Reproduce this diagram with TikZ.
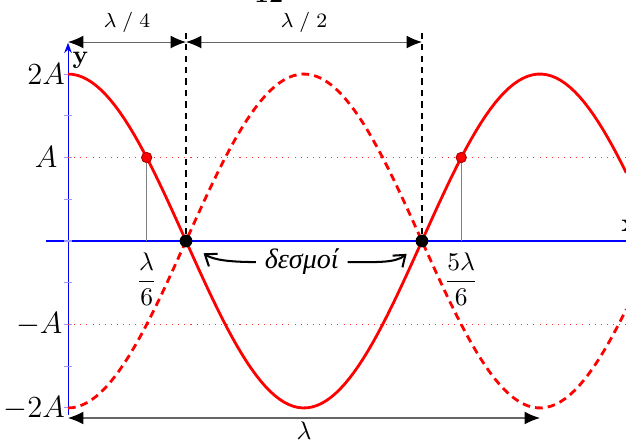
\documentclass[tikz,border=0pt]{standalone}
\usepackage{fontspec}
\usepackage{amsmath}
\newfontfamily\greekfont{Liberation Serif}
\usetikzlibrary{arrows.meta}

\begin{document}
\begin{tikzpicture}[
  wave/.style={red,line width=1.1pt},
  dim/.style={black!60,thin,{Latex[length=6pt,width=5pt,color=black]}-{Latex[length=6pt,width=5pt,color=black]}},
  node dot/.style={circle,fill=black,inner sep=0pt,minimum size=5pt},
  red dot/.style={circle,fill=red,draw=red!70!black,inner sep=0pt,minimum size=4pt},
  level/.style={red!80,dotted,thin},
  ylabel/.style={anchor=east,inner sep=1pt,font=\large}
]
  \def\lam{6.5}
  \def\amp{1.15}
  \useasboundingbox (-0.937,-2.755) rectangle (7.686,3.32);
  \coordinate (O) at (0,0);
  % axes
  \draw[blue,->] (-0.3,0) -- (7.8,0);
  \draw[blue,-{Stealth[length=4pt,width=3pt]}] (0,-2.4) -- (0,2.73);
  \foreach \k in {-4,...,4}
    \draw[blue!40] (-0.05,\k*\amp/2) -- (0.05,\k*\amp/2);
  \node[font=\bfseries] (ylab) at (0.17,2.49) {y};
  \node[font=\bfseries] (xlab) at (7.73,0.21) {x};
  \node[font=\bfseries,anchor=base] (num) at (2.77,3.279) {12};
  % levels +A, -A
  \draw[level] (0,\amp) -- (7.69,\amp);
  \draw[level] (0,-\amp) -- (7.69,-\amp);
  \node[ylabel] (l2a) at (0,2*\amp) {$2A$};
  \node[ylabel,inner sep=4pt] (la) at (0,\amp) {$A$};
  \node[ylabel,inner sep=2pt] (lma) at (0,-\amp) {$-A$};
  \node[ylabel] (lm2a) at (0,-2*\amp) {$-2A$};
  % the two waves
  \draw[wave,dash pattern=on 3pt off 2pt] plot[domain=0:7.69,samples=120] (\x,{-2*\amp*cos(360*\x/\lam)});
  \draw[wave] plot[domain=0:7.69,samples=120] (\x,{2*\amp*cos(360*\x/\lam)});
  % points at y = A
  \node[red dot] (p1) at (\lam/6,\amp) {};
  \node[red dot] (p2) at (5*\lam/6,\amp) {};
  \draw[gray,thin] (p1.south) -- (p1 |- O);
  \draw[gray,thin] (p2.south) -- (p2 |- O);
  \node[below=1pt] (f1) at (p1 |- O) {$\dfrac{\lambda}{6}$};
  \node[below=1pt] (f2) at (p2 |- O) {$\dfrac{5\lambda}{6}$};
  % nodes
  \node[node dot] (n1) at (\lam/4,0) {};
  \node[node dot] (n2) at (3*\lam/4,0) {};
  \coordinate (d0) at (0,2.741);
  \coordinate (d1) at (\lam/4,2.741);
  \coordinate (d2) at (3*\lam/4,2.741);
  \draw[black,line width=0.8pt,dash pattern=on 2.5pt off 2pt] (n1) -- (\lam/4,2.865);
  \draw[black,line width=0.8pt,dash pattern=on 2.5pt off 2pt] (n2) -- (3*\lam/4,2.865);
  \draw[dim] (d0) -- (d1) node[midway,above,text=black,font=\footnotesize] {$\lambda\;/\;4$};
  \draw[dim] (d1) -- (d2) node[midway,above,text=black,font=\footnotesize] {$\lambda\;/\;2$};
  % wavelength
  \coordinate (b0) at (0,-2.438);
  \coordinate (b1) at (\lam,-2.438);
  \draw[dim] (b0) -- (b1) node[midway,below=-2pt,text=black] {$\lambda$};
  % label of the nodes
  \node[font=\fontsize{11}{13}\greekfont\itshape] (desmoi) at (3.22,-0.29) {δεσμοί};
  \draw[thick,-{Straight Barb[length=4pt,width=6pt]},shorten >=0.2cm] (desmoi.west) to[out=180,in=-35] (n1);
  \draw[thick,-{Straight Barb[length=4pt,width=6pt]},shorten >=0.18cm] (desmoi.east) to[out=0,in=-140] (n2);
\end{tikzpicture}
\end{document}
